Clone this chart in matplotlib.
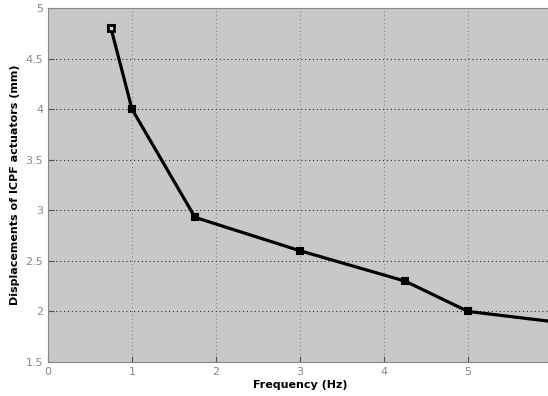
import numpy as np
import matplotlib.pyplot as plt

# values
freq = [0.75, 1.0, 1.75, 3.0, 4.25, 5.0, 6.0]
disp = [4.8, 4.0, 2.93, 2.6, 2.3, 2.0, 1.9]
xticks = [0, 1, 2, 3, 4, 5]
yticks = [1.5, 2, 2.5, 3, 3.5, 4, 4.5, 5]

fig = plt.figure(figsize=(5.48, 3.96), dpi=100)
ax = fig.add_axes([48 / 548, 34 / 396, 504 / 548, 354 / 396])
ax.set_facecolor('#c8c8c8')

ax.plot(freq, disp, 'k-', lw=2.3, marker='s', ms=5, mfc='k', mec='k', mew=1.5)
# first point is drawn hollow in the reference
ax.plot(freq[:1], disp[:1], 's', ms=5, mfc='#dddddd', mec='k', mew=2)

ax.set_xlim(0, 6)
ax.set_ylim(1.5, 5)
ax.set_xticks(xticks)
ax.set_yticks(yticks)
ax.set_yticklabels(['1.5', '2', '2.5', '3', '3.5', '4', '4.5', '5'])
ax.yaxis.grid(True, color='#333333', linestyle=(0, (1, 2.5)), linewidth=0.8)
ax.xaxis.grid(True, color='#888888', linestyle=(0, (1, 2.5)), linewidth=0.8)
ax.tick_params(direction='in', labelsize=8, labelcolor='#888888', color='#555555', length=4)
for s in ax.spines.values():
    s.set_color('#888888')

ax.set_xlabel('Frequency (Hz)', fontsize=8, fontweight='bold', labelpad=2)
ax.set_ylabel('Displacements of ICPF actuators (mm)', fontsize=8, fontweight='bold', labelpad=4)

fig.savefig('out.png', dpi=100)
